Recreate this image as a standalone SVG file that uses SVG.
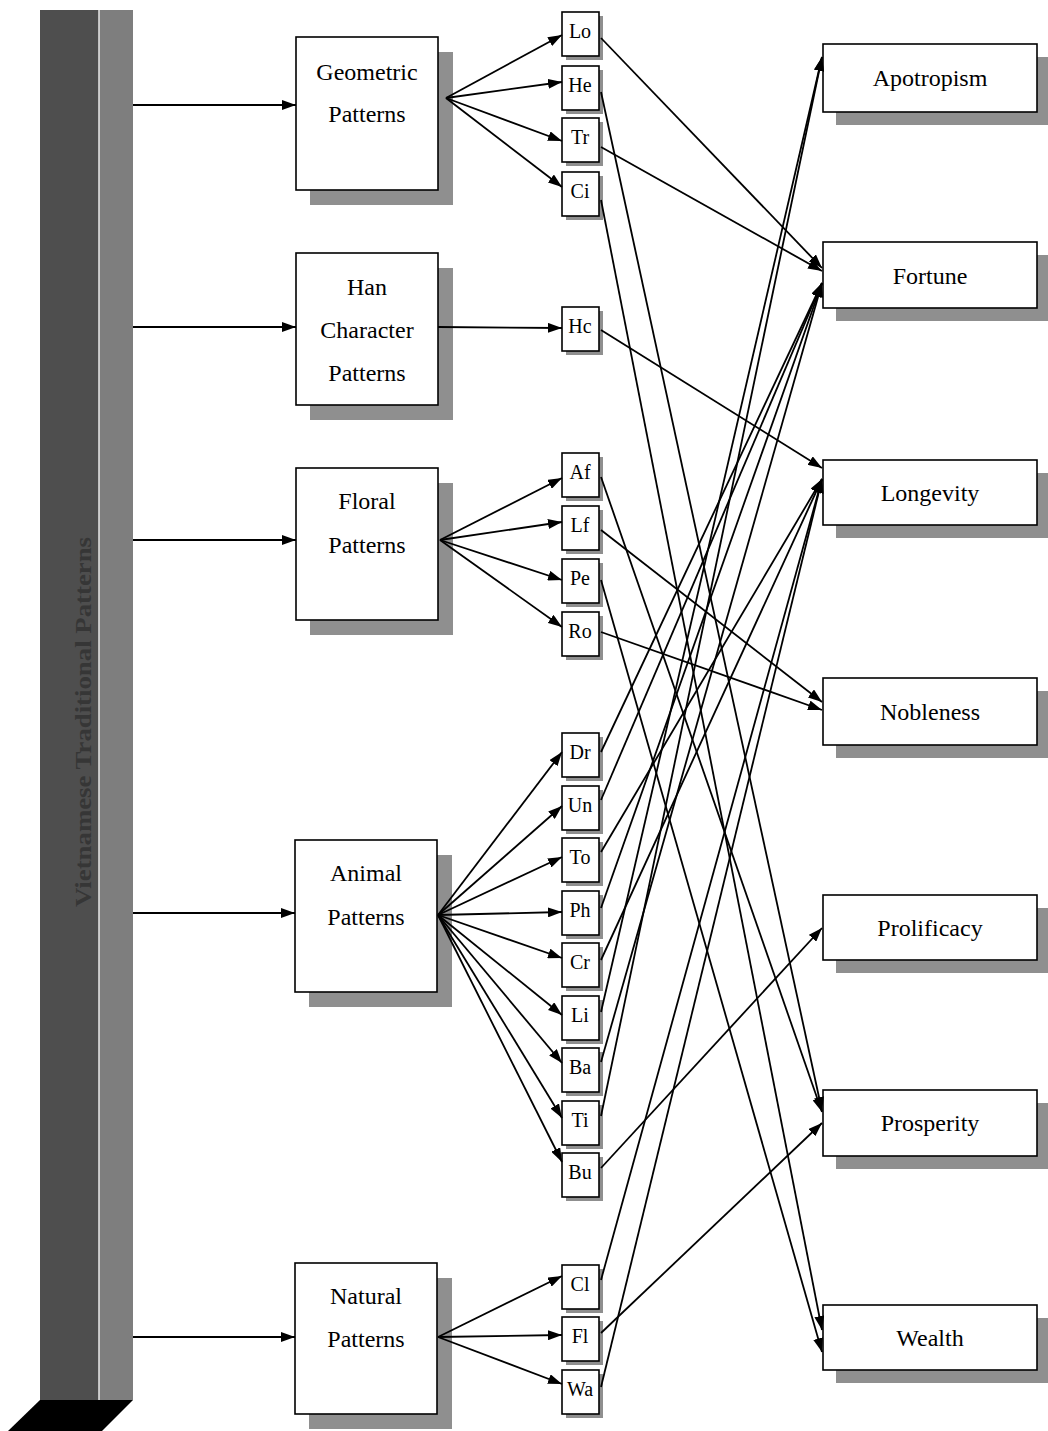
<svg xmlns="http://www.w3.org/2000/svg" width="1048" height="1431" viewBox="0 0 1048 1431">
<defs>
<style>
.box{fill:#fff;stroke:#000;stroke-width:1.6}
.sh{fill:#8f8f8f}
.t{font-family:"Liberation Serif","Times New Roman",serif;font-size:24px;fill:#000;text-anchor:middle}
.s{font-family:"Liberation Serif","Times New Roman",serif;font-size:20px;fill:#000;text-anchor:middle}
.c{fill:none;stroke:#000;stroke-width:1.8;marker-end:url(#ah)}
</style>
<marker id="ah" viewBox="0 0 14 10" refX="14" refY="5" markerWidth="14" markerHeight="10" markerUnits="userSpaceOnUse" orient="auto">
<path d="M0,0 L14,5 L0,10 z" fill="#000"/>
</marker>
</defs>
<rect width="1048" height="1431" fill="#fff"/>

<g id="bar">
<rect x="40" y="10" width="59" height="1390" fill="#4e4e4e"/>
<rect x="99" y="10" width="34" height="1390" fill="#7e7e7e"/>
<line x1="99" y1="10" x2="99" y2="1400" stroke="#e8e8e8" stroke-width="1.5"/>
<polygon points="40,1400 133,1400 102,1431 8,1431" fill="#000"/>
<text class="t" transform="translate(91,722) rotate(-90)" style="font-weight:bold;fill:#363636" textLength="370" lengthAdjust="spacingAndGlyphs">Vietnamese Traditional Patterns</text>
</g>

<g id="geometric">
<rect class="sh" x="310" y="52" width="143" height="153"/>
<rect class="box" x="296" y="37" width="142" height="153"/>
<text class="t" x="367" y="80">Geometric</text>
<text class="t" x="367" y="122">Patterns</text>
</g>
<g id="han">
<rect class="sh" x="310" y="268" width="143" height="152"/>
<rect class="box" x="296" y="253" width="142" height="152"/>
<text class="t" x="367" y="295">Han</text>
<text class="t" x="367" y="338">Character</text>
<text class="t" x="367" y="381">Patterns</text>
</g>
<g id="floral">
<rect class="sh" x="310" y="483" width="143" height="152"/>
<rect class="box" x="296" y="468" width="142" height="152"/>
<text class="t" x="367" y="509">Floral</text>
<text class="t" x="367" y="553">Patterns</text>
</g>
<g id="animal">
<rect class="sh" x="309" y="855" width="143" height="152"/>
<rect class="box" x="295" y="840" width="142" height="152"/>
<text class="t" x="366" y="881">Animal</text>
<text class="t" x="366" y="925">Patterns</text>
</g>
<g id="natural">
<rect class="sh" x="309" y="1278" width="143" height="151"/>
<rect class="box" x="295" y="1263" width="142" height="151"/>
<text class="t" x="366" y="1304">Natural</text>
<text class="t" x="366" y="1347">Patterns</text>
</g>

<g id="Lo"><rect class="sh" x="566" y="16" width="37" height="44"/><rect class="box" x="562" y="12" width="37" height="44"/><text class="s" x="580" y="38">Lo</text></g>
<g id="He"><rect class="sh" x="566" y="70" width="37" height="44"/><rect class="box" x="562" y="66" width="37" height="44"/><text class="s" x="580" y="92">He</text></g>
<g id="Tr"><rect class="sh" x="566" y="122" width="37" height="44"/><rect class="box" x="562" y="118" width="37" height="44"/><text class="s" x="580" y="144">Tr</text></g>
<g id="Ci"><rect class="sh" x="566" y="176" width="37" height="44"/><rect class="box" x="562" y="172" width="37" height="44"/><text class="s" x="580" y="198">Ci</text></g>
<g id="Hc"><rect class="sh" x="566" y="311" width="37" height="44"/><rect class="box" x="562" y="307" width="37" height="44"/><text class="s" x="580" y="333">Hc</text></g>
<g id="Af"><rect class="sh" x="566" y="457" width="37" height="44"/><rect class="box" x="562" y="453" width="37" height="44"/><text class="s" x="580" y="479">Af</text></g>
<g id="Lf"><rect class="sh" x="566" y="510" width="37" height="44"/><rect class="box" x="562" y="506" width="37" height="44"/><text class="s" x="580" y="532">Lf</text></g>
<g id="Pe"><rect class="sh" x="566" y="563" width="37" height="44"/><rect class="box" x="562" y="559" width="37" height="44"/><text class="s" x="580" y="585">Pe</text></g>
<g id="Ro"><rect class="sh" x="566" y="616" width="37" height="44"/><rect class="box" x="562" y="612" width="37" height="44"/><text class="s" x="580" y="638">Ro</text></g>
<g id="Dr"><rect class="sh" x="566" y="737" width="37" height="44"/><rect class="box" x="562" y="733" width="37" height="44"/><text class="s" x="580" y="759">Dr</text></g>
<g id="Un"><rect class="sh" x="566" y="790" width="37" height="44"/><rect class="box" x="562" y="786" width="37" height="44"/><text class="s" x="580" y="812">Un</text></g>
<g id="To"><rect class="sh" x="566" y="842" width="37" height="44"/><rect class="box" x="562" y="838" width="37" height="44"/><text class="s" x="580" y="864">To</text></g>
<g id="Ph"><rect class="sh" x="566" y="895" width="37" height="44"/><rect class="box" x="562" y="891" width="37" height="44"/><text class="s" x="580" y="917">Ph</text></g>
<g id="Cr"><rect class="sh" x="566" y="947" width="37" height="44"/><rect class="box" x="562" y="943" width="37" height="44"/><text class="s" x="580" y="969">Cr</text></g>
<g id="Li"><rect class="sh" x="566" y="1000" width="37" height="44"/><rect class="box" x="562" y="996" width="37" height="44"/><text class="s" x="580" y="1022">Li</text></g>
<g id="Ba"><rect class="sh" x="566" y="1052" width="37" height="44"/><rect class="box" x="562" y="1048" width="37" height="44"/><text class="s" x="580" y="1074">Ba</text></g>
<g id="Ti"><rect class="sh" x="566" y="1105" width="37" height="44"/><rect class="box" x="562" y="1101" width="37" height="44"/><text class="s" x="580" y="1127">Ti</text></g>
<g id="Bu"><rect class="sh" x="566" y="1157" width="37" height="44"/><rect class="box" x="562" y="1153" width="37" height="44"/><text class="s" x="580" y="1179">Bu</text></g>
<g id="Cl"><rect class="sh" x="566" y="1269" width="37" height="44"/><rect class="box" x="562" y="1265" width="37" height="44"/><text class="s" x="580" y="1291">Cl</text></g>
<g id="Fl"><rect class="sh" x="566" y="1321" width="37" height="44"/><rect class="box" x="562" y="1317" width="37" height="44"/><text class="s" x="580" y="1343">Fl</text></g>
<g id="Wa"><rect class="sh" x="566" y="1374" width="37" height="44"/><rect class="box" x="562" y="1370" width="37" height="44"/><text class="s" x="580" y="1396">Wa</text></g>

<g id="apotropism"><rect class="sh" x="836" y="57" width="214" height="68"/><rect class="box" x="823" y="44" width="214" height="68"/><text class="t" x="930" y="86">Apotropism</text></g>
<g id="fortune"><rect class="sh" x="836" y="255" width="214" height="66"/><rect class="box" x="823" y="242" width="214" height="66"/><text class="t" x="930" y="284">Fortune</text></g>
<g id="longevity"><rect class="sh" x="836" y="473" width="214" height="65"/><rect class="box" x="823" y="460" width="214" height="65"/><text class="t" x="930" y="501">Longevity</text></g>
<g id="nobleness"><rect class="sh" x="836" y="691" width="214" height="67"/><rect class="box" x="823" y="678" width="214" height="67"/><text class="t" x="930" y="720">Nobleness</text></g>
<g id="prolificacy"><rect class="sh" x="836" y="908" width="214" height="65"/><rect class="box" x="823" y="895" width="214" height="65"/><text class="t" x="930" y="936">Prolificacy</text></g>
<g id="prosperity"><rect class="sh" x="836" y="1103" width="214" height="66"/><rect class="box" x="823" y="1090" width="214" height="66"/><text class="t" x="930" y="1131">Prosperity</text></g>
<g id="wealth"><rect class="sh" x="836" y="1318" width="214" height="65"/><rect class="box" x="823" y="1305" width="214" height="65"/><text class="t" x="930" y="1346">Wealth</text></g>

<g id="connectors">
<line class="c" x1="133" y1="105" x2="296" y2="105"/>
<line class="c" x1="133" y1="327" x2="296" y2="327"/>
<line class="c" x1="133" y1="540" x2="296" y2="540"/>
<line class="c" x1="133" y1="913" x2="295" y2="913"/>
<line class="c" x1="133" y1="1337" x2="295" y2="1337"/>

<line class="c" x1="446" y1="98" x2="562" y2="35"/>
<line class="c" x1="446" y1="98" x2="562" y2="82"/>
<line class="c" x1="446" y1="98" x2="562" y2="141"/>
<line class="c" x1="446" y1="98" x2="562" y2="187"/>
<line class="c" x1="438" y1="327" x2="562" y2="328"/>
<line class="c" x1="440" y1="540" x2="562" y2="478"/>
<line class="c" x1="440" y1="540" x2="562" y2="522"/>
<line class="c" x1="440" y1="540" x2="562" y2="580"/>
<line class="c" x1="440" y1="540" x2="562" y2="627"/>
<line class="c" x1="438" y1="915" x2="562" y2="752"/>
<line class="c" x1="438" y1="915" x2="562" y2="806"/>
<line class="c" x1="438" y1="915" x2="562" y2="857"/>
<line class="c" x1="438" y1="915" x2="562" y2="912"/>
<line class="c" x1="438" y1="915" x2="562" y2="958"/>
<line class="c" x1="438" y1="915" x2="562" y2="1015"/>
<line class="c" x1="438" y1="915" x2="562" y2="1063"/>
<line class="c" x1="438" y1="915" x2="562" y2="1118"/>
<line class="c" x1="438" y1="915" x2="562" y2="1162"/>
<line class="c" x1="438" y1="1337" x2="562" y2="1276"/>
<line class="c" x1="438" y1="1337" x2="562" y2="1335"/>
<line class="c" x1="438" y1="1337" x2="562" y2="1384"/>

<line class="c" x1="601" y1="38" x2="822" y2="268"/>
<line class="c" x1="601" y1="92" x2="822" y2="1111"/>
<line class="c" x1="601" y1="147" x2="822" y2="271"/>
<line class="c" x1="601" y1="200" x2="822" y2="1330"/>
<line class="c" x1="601" y1="330" x2="822" y2="468"/>
<line class="c" x1="601" y1="477" x2="822" y2="1112"/>
<line class="c" x1="601" y1="530" x2="822" y2="702"/>
<line class="c" x1="601" y1="580" x2="822" y2="1352"/>
<line class="c" x1="601" y1="632" x2="822" y2="710"/>
<line class="c" x1="601" y1="752" x2="822" y2="283"/>
<line class="c" x1="601" y1="800" x2="822" y2="283"/>
<line class="c" x1="601" y1="852" x2="822" y2="479"/>
<line class="c" x1="601" y1="908" x2="822" y2="283"/>
<line class="c" x1="601" y1="960" x2="822" y2="479"/>
<line class="c" x1="601" y1="1012" x2="822" y2="57"/>
<line class="c" x1="601" y1="1062" x2="822" y2="283"/>
<line class="c" x1="601" y1="1116" x2="822" y2="57"/>
<line class="c" x1="601" y1="1168" x2="822" y2="928"/>
<line class="c" x1="601" y1="1280" x2="822" y2="479"/>
<line class="c" x1="601" y1="1333" x2="822" y2="1123"/>
<line class="c" x1="601" y1="1387" x2="822" y2="479"/>
</g>
</svg>
